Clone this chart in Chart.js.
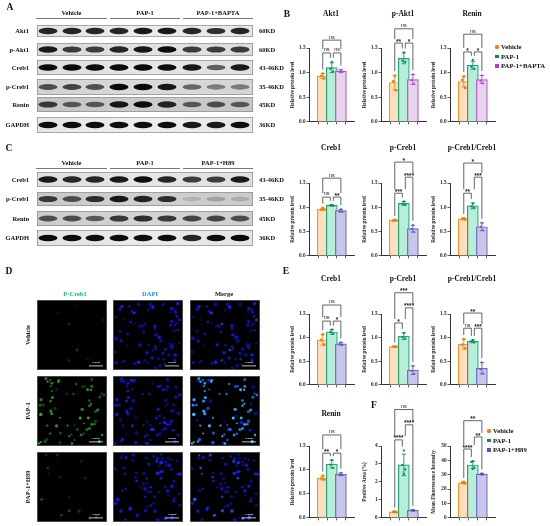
<!DOCTYPE html>
<html>
<head>
<meta charset="utf-8">
<script src="https://cdn.jsdelivr.net/npm/chart.js@4.4.0/dist/chart.umd.min.js"></script>
<style>
  html, body { margin: 0; padding: 0; background: #fff; }
  #fig { position: relative; width: 550px; height: 526px; overflow: hidden;
         font-family: "Liberation Serif", "Times New Roman", serif; font-weight: bold; color: #111; }
  .t { position: absolute; white-space: nowrap; line-height: 1; }
  #fig canvas { position: absolute; }
</style>
</head>
<body>
<div id="fig"><canvas id="bg" width="550" height="526" style="left:0;top:0"></canvas></div>
<script>
// ---- data ----
const groupsBapta = ['Vehicle', 'PAP-1', 'PAP-1+BAPTA'];
const groupsH89 = ['Vehicle', 'PAP-1', 'PAP-1+H89'];
const proteinTicks = [0, 0.5, 1.0, 1.5];

// B
const akt1Mean = [0.93, 1.10, 1.03];
const akt1Sd = [0.05, 0.10, 0.03];
const akt1Pts = [[0.98, 0.93, 0.88], [1.22, 1.08, 1.02], [1.05, 1.02, 1.01]];
const pakt1Mean = [0.80, 1.29, 0.86];
const pakt1Sd = [0.15, 0.11, 0.10];
const pakt1Pts = [[0.93, 0.82, 0.64], [1.41, 1.24, 1.22], [0.97, 0.85, 0.77]];
const reninBMean = [0.82, 1.15, 0.86];
const reninBSd = [0.11, 0.08, 0.08];
const reninBPts = [[0.92, 0.85, 0.69], [1.26, 1.12, 1.08], [0.95, 0.83, 0.78]];

// C
const creb1CMean = [0.96, 1.04, 0.93];
const creb1CSd = [0.02, 0.01, 0.03];
const creb1CPts = [[0.99, 0.95, 0.95], [1.05, 1.04, 1.03], [0.96, 0.92, 0.91]];
const pcreb1CMean = [0.73, 1.08, 0.56];
const pcreb1CSd = [0.01, 0.04, 0.07];
const pcreb1CPts = [[0.74, 0.73, 0.73], [1.12, 1.07, 1.05], [0.64, 0.55, 0.49]];
const ratioCMean = [0.76, 1.03, 0.60];
const ratioCSd = [0.02, 0.06, 0.08];
const ratioCPts = [[0.77, 0.76, 0.75], [1.08, 1.02, 0.99], [0.68, 0.60, 0.52]];

// E
const creb1EMean = [0.95, 1.12, 0.87];
const creb1ESd = [0.11, 0.05, 0.03];
const creb1EPts = [[1.07, 0.95, 0.85], [1.17, 1.12, 1.08], [0.90, 0.87, 0.85]];
const pcreb1EMean = [0.81, 1.03, 0.31];
const pcreb1ESd = [0.005, 0.07, 0.09];
const pcreb1EPts = [[0.81, 0.81, 0.81], [1.10, 1.01, 0.98], [0.40, 0.30, 0.24]];
const ratioEMean = [0.86, 0.92, 0.35];
const ratioESd = [0.10, 0.03, 0.12];
const ratioEPts = [[0.97, 0.85, 0.77], [0.95, 0.92, 0.90], [0.48, 0.33, 0.24]];
const reninEMean = [0.83, 1.12, 0.91];
const reninESd = [0.04, 0.08, 0.03];
const reninEPts = [[0.88, 0.82, 0.80], [1.21, 1.11, 1.04], [0.94, 0.90, 0.89]];

// F
const areaTicks = [0, 1, 2, 3, 4];
const areaMean = [0.33, 2.95, 0.42];
const areaSd = [0.02, 0.60, 0.03];
const areaPts = [[0.35, 0.33, 0.32, 0.33], [3.75, 2.95, 2.70, 2.45], [0.45, 0.42, 0.41, 0.40]];
const mfiTicks = [0, 10, 20, 30, 40, 50];
const mfiMean = [24.4, 36.8, 30.5];
const mfiSd = [0.5, 2.5, 0.5];
const mfiPts = [[25.0, 24.5, 24.0, 24.2], [39.5, 39.0, 35.0, 34.0], [31.0, 30.5, 30.3, 30.0]];

// significance brackets: [from group, to group, height (data units), label]
const akt1Sig = [[0, 1, 1.40, 'ns'], [1, 2, 1.40, 'ns'], [0, 2, 1.66, 'ns']];
const pakt1Sig = [[0, 1, 1.60, '**'], [1, 2, 1.60, '*'], [0, 2, 1.89, 'ns']];
const reninBSig = [[0, 1, 1.42, '*'], [1, 2, 1.42, '*'], [0, 2, 1.78, 'ns']];
const creb1CSig = [[0, 1, 1.21, 'ns'], [1, 2, 1.21, '**'], [0, 2, 1.60, 'ns']];
const pcreb1CSig = [[0, 1, 1.29, '***'], [1, 2, 1.62, '****'], [0, 2, 1.93, '*']];
const ratioCSig = [[0, 1, 1.29, '**'], [1, 2, 1.62, '***'], [0, 2, 1.91, '*']];
const creb1ESig = [[0, 1, 1.35, 'ns'], [1, 2, 1.35, '*'], [0, 2, 1.69, 'ns']];
const pcreb1ESig = [[0, 1, 1.31, '*'], [1, 2, 1.63, '****'], [0, 2, 1.95, '***']];
const ratioESig = [[0, 1, 1.20, 'ns'], [1, 2, 1.20, '***'], [0, 2, 1.52, '**']];
const reninESig = [[0, 1, 1.35, '**'], [1, 2, 1.35, '*'], [0, 2, 1.73, 'ns']];
const areaSig = [[0, 1, 4.34, '****'], [1, 2, 5.18, '****'], [0, 2, 6.03, 'ns']];
const mfiSig = [[0, 1, 47.9, '****'], [1, 2, 56.3, '**'], [0, 2, 67.6, '**']];

// western blot band strengths (0..1), 9 lanes each
const blotA = {
  'Akt1':    [0.80, 0.80, 0.80, 0.80, 0.85, 0.85, 0.80, 0.75, 0.80],
  'p-Akt1':  [0.85, 0.70, 0.70, 0.80, 0.85, 0.90, 0.70, 0.70, 0.70],
  'Creb1':   [0.95, 0.95, 0.90, 0.95, 0.95, 0.90, 0.85, 0.55, 0.85],
  'p-Creb1': [0.60, 0.65, 0.60, 0.95, 1.00, 0.85, 0.50, 0.40, 0.40],
  'Renin':   [0.70, 0.55, 0.55, 0.85, 0.90, 0.80, 0.55, 0.60, 0.55],
  'GAPDH':   [0.95, 0.90, 0.90, 0.90, 0.90, 0.90, 0.85, 0.85, 0.90]
};
const blotC = {
  'Creb1':   [0.85, 0.80, 0.80, 0.85, 0.90, 0.80, 0.70, 0.70, 0.85],
  'p-Creb1': [0.70, 0.60, 0.75, 0.85, 0.80, 0.75, 0.12, 0.20, 0.15],
  'Renin':   [0.60, 0.60, 0.55, 0.70, 0.75, 0.70, 0.65, 0.65, 0.60],
  'GAPDH':   [1.00, 0.90, 0.90, 0.90, 0.90, 0.90, 0.80, 0.90, 0.95]
};
const kdA = ['60KD', '60KD', '43-46KD', '35-46KD', '45KD', '36KD'];
const kdC = ['43-46KD', '35-46KD', '45KD', '36KD'];

// ---- styling ----
const SERIF = '"Liberation Serif", "Times New Roman", serif';
const SANS = '"Liberation Sans", Arial, sans-serif';
const VEH = { fill: '#FFDDBE', line: '#F7941D', dot: '#F07F10' };
const PAP = { fill: '#B8EDD8', line: '#1FA57A', dot: '#10865C' };
const BAP = { fill: '#E8D3EC', line: '#B94FCF', dot: '#B03FC8' };
const H89 = { fill: '#C8C6EA', line: '#6D66C6', dot: '#5850B4' };
const SHAPES = ['circle', 'rect', 'triangle'];
const JIT = { 3: [0, -0.16, 0.16], 4: [0, -0.16, 0.16, 0] };
const X_MIN = -0.69, X_MAX = 2.62, YAXIS_W = 20;

const fig = document.getElementById('fig');

function label(text, x, y, size, opts = {}) {
  const d = document.createElement('div');
  d.className = 't';
  d.textContent = text;
  d.style.left = x + 'px';
  d.style.top = y + 'px';
  d.style.fontSize = size + 'px';
  let tf = opts.align === 'right' ? 'translate(-100%,-50%)'
         : opts.align === 'left' ? 'translate(0,-50%)' : 'translate(-50%,-50%)';
  if (opts.rot) tf += ' rotate(-90deg)';
  d.style.transform = tf;
  if (opts.color) d.style.color = opts.color;
  fig.appendChild(d);
  return d;
}

// error bars under the points, brackets on top
function decor(sp) {
  return {
    id: 'decor',
    afterDatasetDraw(chart, args) {
      if (args.index !== 0) return;
      const ctx = chart.ctx, xs = chart.scales.x, ys = chart.scales.y;
      ctx.save();
      sp.mean.forEach((m, i) => {
        const x = xs.getPixelForValue(i);
        const yt = ys.getPixelForValue(m + sp.sd[i]);
        const yb = ys.getPixelForValue(Math.max(0, m - sp.sd[i]));
        ctx.strokeStyle = sp.pal[i].line;
        ctx.lineWidth = 1;
        ctx.beginPath();
        ctx.moveTo(x, yb); ctx.lineTo(x, yt);
        ctx.moveTo(x - 2.2, yt); ctx.lineTo(x + 2.2, yt);
        ctx.moveTo(x - 2.2, yb); ctx.lineTo(x + 2.2, yb);
        ctx.stroke();
      });
      ctx.restore();
    },
    afterDraw(chart) {
      const ctx = chart.ctx, xs = chart.scales.x, ys = chart.scales.y;
      const tops = sp.mean.map((m, i) => Math.max(m + sp.sd[i], ...sp.pts[i]));
      ctx.save();
      ctx.strokeStyle = '#333';
      ctx.fillStyle = '#222';
      ctx.lineWidth = 0.75;
      ctx.textAlign = 'center';
      ctx.textBaseline = 'alphabetic';
      sp.sig.forEach(([g1, g2, lvl, txt]) => {
        const legEnd = (g) => {
          let ob = tops[g];
          sp.sig.forEach(([h1, h2, l2]) => {
            if (l2 < lvl && g >= h1 && g <= h2) ob = Math.max(ob, l2);
          });
          return Math.max(ys.getPixelForValue(ob) - 4, ys.getPixelForValue(lvl) + 3);
        };
        const yl = ys.getPixelForValue(lvl);
        const x1 = xs.getPixelForValue(g1) + (g1 === 1 ? 1.5 : 0);
        const x2 = xs.getPixelForValue(g2) - (g2 === 1 ? 1.5 : 0);
        ctx.beginPath();
        ctx.moveTo(x1, legEnd(g1)); ctx.lineTo(x1, yl);
        ctx.lineTo(x2, yl); ctx.lineTo(x2, legEnd(g2));
        ctx.stroke();
        if (txt === 'ns') {
          ctx.font = '5.5px ' + SANS;
          ctx.fillText(txt, (x1 + x2) / 2, yl - 1.6);
        } else {
          ctx.font = 'bold 6.5px ' + SANS;
          ctx.fillText(txt, (x1 + x2) / 2, yl + 0.6);
        }
      });
      ctx.restore();
    }
  };
}

function makeChart(sp) {
  const cv = document.createElement('canvas');
  const padTop = 48;
  const left = sp.ax - YAXIS_W, top = sp.ytop - padTop;
  const w = YAXIS_W + 48 + 1;
  const h = Math.round(sp.y0 - top) + 4;
  cv.width = w; cv.height = h;
  cv.style.left = left + 'px'; cv.style.top = top + 'px';
  cv.style.width = w + 'px'; cv.style.height = h + 'px';
  fig.appendChild(cv);
  if (sp.title) label(sp.title, sp.ax + 22, sp.titleY, 7.5);

  const datasets = [{
    type: 'bar',
    data: sp.mean.map((m, i) => ({ x: i, y: m })),
    backgroundColor: sp.pal.map(p => p.fill),
    borderColor: sp.pal.map(p => p.line),
    borderWidth: 1.2,
    barThickness: 11,
    order: 1
  }];
  sp.pts.forEach((arr, i) => {
    datasets.push({
      type: 'scatter',
      label: sp.groups[i],
      data: arr.map((v, k) => ({ x: i + JIT[arr.length][k], y: v })),
      pointRadius: 1.4,
      pointStyle: SHAPES[i],
      pointBackgroundColor: sp.pal[i].dot,
      pointBorderColor: sp.pal[i].dot,
      pointBorderWidth: 0,
      order: 0
    });
  });

  new Chart(cv, {
    type: 'bar',
    data: { datasets },
    options: {
      responsive: false,
      animation: false,
      events: [],
      layout: { padding: { top: padTop, left: 0, right: 1, bottom: 0 } },
      plugins: { legend: { display: false }, tooltip: { enabled: false } },
      scales: {
        x: {
          type: 'linear', min: X_MIN, max: X_MAX,
          ticks: { display: false },
          afterBuildTicks(s) { s.ticks = [0, 1, 2].map(v => ({ value: v })); },
          grid: { drawOnChartArea: false, drawTicks: true, tickLength: 2.5, color: '#333', lineWidth: 0.8 },
          border: { color: '#333', width: 1 },
          afterFit(s) { s.height = 4; }
        },
        y: {
          min: 0, max: sp.ticks[sp.ticks.length - 1],
          afterBuildTicks(s) { s.ticks = sp.ticks.map(v => ({ value: v })); },
          ticks: {
            padding: 1, color: '#222',
            font: { family: SERIF, size: 5.2, weight: 'bold' },
            callback: sp.fmt
          },
          grid: { drawOnChartArea: false, drawTicks: true, tickLength: 2.5, color: '#333', lineWidth: 0.8 },
          border: { color: '#333', width: 1 },
          title: {
            display: true, text: sp.ylabel, color: '#222',
            padding: { top: 0.5, bottom: 0 },
            font: { family: SERIF, size: 5.2, weight: 'bold' }
          },
          afterFit(s) { s.width = YAXIS_W; }
        }
      }
    },
    plugins: [decor(sp)]
  });
}

const fmt1 = v => Number(v).toFixed(1);
const fmt0 = v => String(v);
const RPL = 'Relative protein level';
const COL = [309, 381, 450];
const ROW_B = { y0: 122, ytop: 48, titleY: 14 };
const ROW_C = { y0: 256, ytop: 183, titleY: 148 };
const ROW_E = { y0: 385, ytop: 314, titleY: 279 };
const ROW_F = { y0: 517, ytop: 445.5, titleY: 414 };
const palB = [VEH, PAP, BAP];
const palH = [VEH, PAP, H89];

const specs = [
  { title: 'Akt1', ax: COL[0], row: ROW_B, pal: palB, groups: groupsBapta, mean: akt1Mean, sd: akt1Sd, pts: akt1Pts, sig: akt1Sig },
  { title: 'p-Akt1', ax: COL[1], row: ROW_B, pal: palB, groups: groupsBapta, mean: pakt1Mean, sd: pakt1Sd, pts: pakt1Pts, sig: pakt1Sig },
  { title: 'Renin', ax: COL[2], row: ROW_B, pal: palB, groups: groupsBapta, mean: reninBMean, sd: reninBSd, pts: reninBPts, sig: reninBSig },
  { title: 'Creb1', ax: COL[0], row: ROW_C, pal: palH, groups: groupsH89, mean: creb1CMean, sd: creb1CSd, pts: creb1CPts, sig: creb1CSig },
  { title: 'p-Creb1', ax: COL[1], row: ROW_C, pal: palH, groups: groupsH89, mean: pcreb1CMean, sd: pcreb1CSd, pts: pcreb1CPts, sig: pcreb1CSig },
  { title: 'p-Creb1/Creb1', ax: COL[2], row: ROW_C, pal: palH, groups: groupsH89, mean: ratioCMean, sd: ratioCSd, pts: ratioCPts, sig: ratioCSig },
  { title: 'Creb1', ax: COL[0], row: ROW_E, pal: palH, groups: groupsH89, mean: creb1EMean, sd: creb1ESd, pts: creb1EPts, sig: creb1ESig },
  { title: 'p-Creb1', ax: COL[1], row: ROW_E, pal: palH, groups: groupsH89, mean: pcreb1EMean, sd: pcreb1ESd, pts: pcreb1EPts, sig: pcreb1ESig },
  { title: 'p-Creb1/Creb1', ax: COL[2], row: ROW_E, pal: palH, groups: groupsH89, mean: ratioEMean, sd: ratioESd, pts: ratioEPts, sig: ratioESig },
  { title: 'Renin', ax: COL[0], row: ROW_F, pal: palH, groups: groupsH89, mean: reninEMean, sd: reninESd, pts: reninEPts, sig: reninESig },
  { title: '', ax: COL[1], row: ROW_F, pal: palH, groups: groupsH89, mean: areaMean, sd: areaSd, pts: areaPts, sig: areaSig,
    ticks: areaTicks, fmt: fmt0, ylabel: 'Positive Area (%)' },
  { title: '', ax: COL[2], row: ROW_F, pal: palH, groups: groupsH89, mean: mfiMean, sd: mfiSd, pts: mfiPts, sig: mfiSig,
    ticks: mfiTicks, fmt: fmt0, ylabel: 'Mean Fluorescence Intensity' }
];
specs.forEach(s => makeChart(Object.assign({
  ticks: proteinTicks, fmt: fmt1, ylabel: RPL,
  y0: s.row.y0, ytop: s.row.ytop, titleY: s.row.titleY
}, s)));

// ---- legends ----
function legend(x, y0, dy, groups, pal) {
  groups.forEach((g, i) => {
    const m = document.createElement('div');
    const y = y0 + i * dy;
    m.style.cssText = `position:absolute;left:${x - 1.6}px;top:${y - 1.6}px;width:3.2px;height:3.2px;background:${pal[i].dot};` +
      (i === 0 ? 'border-radius:50%;' : '');
    fig.appendChild(m);
    label(g, x + 4, y, 6.7, { align: 'left' });
  });
}
legend(497, 47, 9.5, groupsBapta, palB);
legend(489, 431, 9.5, groupsH89, palH);

// ---- panel letters ----
[['A', 10, 8], ['B', 287, 15], ['C', 9, 149], ['D', 9, 272], ['E', 286, 272], ['F', 374, 406]]
  .forEach(([t, x, y]) => label(t, x, y, 9.5));

// ---- western blots ----
const bg = document.getElementById('bg').getContext('2d');
const LANES = [48, 72, 95, 119, 143, 167, 192, 216, 240];

function drawBlot(y, h, inten, tone, bandH) {
  const x = 37, w = 216;
  bg.save();
  const g = bg.createLinearGradient(x, y, x + w, y);
  g.addColorStop(0, `rgb(${tone - 8},${tone - 8},${tone - 8})`);
  g.addColorStop(0.5, `rgb(${tone},${tone},${tone})`);
  g.addColorStop(1, `rgb(${tone - 6},${tone - 6},${tone - 6})`);
  bg.fillStyle = g;
  bg.fillRect(x, y, w, h);
  bg.strokeStyle = '#8a8a8a';
  bg.lineWidth = 0.7;
  bg.strokeRect(x + 0.35, y + 0.35, w - 0.7, h - 0.7);
  bg.beginPath(); bg.rect(x + 1, y + 1, w - 2, h - 2); bg.clip();
  bg.filter = 'blur(0.7px)';
  LANES.forEach((cx, i) => {
    const a = Math.min(1, inten[i] * 1.1);
    bg.fillStyle = `rgba(10,10,10,${a})`;
    bg.beginPath();
    bg.ellipse(cx, y + h / 2, 9.5, bandH / 2 * (0.7 + 0.4 * a), 0, 0, Math.PI * 2);
    bg.fill();
  });
  bg.restore();
}

function blotPanel(rows, kd, yTops, heights, tones, headY, groups) {
  const names = Object.keys(rows);
  names.forEach((n, i) => {
    drawBlot(yTops[i], heights[i], rows[n], tones[i], Math.min(6, heights[i] - 6));
    label(n, 29, yTops[i] + heights[i] / 2, 6.5, { align: 'right' });
    label(kd[i], 259, yTops[i] + heights[i] / 2, 6.5, { align: 'left' });
  });
  const spans = [[36, 107], [110, 180], [183, 253]];
  groups.forEach((g, i) => {
    label(g, (spans[i][0] + spans[i][1]) / 2, headY, 6.5);
    bg.fillStyle = '#555';
    bg.fillRect(spans[i][0], headY + 5, spans[i][1] - spans[i][0], 0.8);
  });
}
blotPanel(blotA, kdA, [25, 43, 60, 79, 97, 117], [12, 13, 15, 16, 15, 16],
  [236, 226, 230, 218, 204, 238], 13, groupsBapta);
blotPanel(blotC, kdC, [172, 192, 211, 230], [15, 14, 15, 16],
  [230, 208, 212, 234], 163, groupsH89);

// ---- immunofluorescence panels (texture from a fixed seed) ----
function seeded(seed) {
  let s = seed;
  return () => { s = (s * 16807) % 2147483647; return (s - 1) / 2147483646; };
}
const MX = [37, 113, 190], MY = [300, 376, 452], MS = 70;
const greenAmount = [[0.10, 0.35], [0.80, 0.85], [0.14, 0.35]];

MY.forEach((y, r) => {
  const rnd = seeded(97 + r * 131);
  const nuclei = [];
  for (let k = 0; k < 80; k++) {
    nuclei.push({ x: 2 + rnd() * (MS - 4), y: 2 + rnd() * (MS - 4), r: 1.0 + rnd() * 0.9,
      b: 0.45 + rnd() * 0.45, g: rnd(), gb: rnd() });
  }
  MX.forEach((x, c) => {
    bg.save();
    bg.fillStyle = '#000';
    bg.fillRect(x, y, MS, MS);
    bg.beginPath(); bg.rect(x, y, MS, MS); bg.clip();
    bg.filter = 'blur(0.4px)';
    bg.globalCompositeOperation = 'lighter';
    nuclei.forEach(n => {
      if (c > 0) {
        bg.fillStyle = `rgba(20,25,240,${n.b})`;
        bg.beginPath(); bg.arc(x + n.x, y + n.y, n.r, 0, Math.PI * 2); bg.fill();
      }
      if (c !== 1 && n.g < greenAmount[r][0]) {
        const a = greenAmount[r][1] * (0.3 + 0.7 * n.gb);
        bg.fillStyle = `rgba(40,220,60,${a})`;
        bg.beginPath(); bg.arc(x + n.x, y + n.y, n.r * 0.9, 0, Math.PI * 2); bg.fill();
      }
    });
    bg.restore();
    bg.strokeStyle = '#777';
    bg.lineWidth = 0.6;
    bg.strokeRect(x + 0.3, y + 0.3, MS - 0.6, MS - 0.6);
    bg.fillStyle = '#eee';
    bg.fillRect(x + MS - 18, y + MS - 4.5, 14, 0.8);
    label('100μm', x + MS - 11, y + MS - 7, 2.8, { color: '#ddd' });
  });
});
label('P-Creb1', 75, 294, 6.5, { color: '#1CC46C' });
label('DAPI', 150, 294, 6.5, { color: '#1E8FE8' });
label('Merge', 224, 294, 6.5);
['Vehicle', 'PAP-1', 'PAP-1+H89'].forEach((t, r) => label(t, 28, MY[r] + MS / 2, 6.5, { rot: true }));
</script>
</body>
</html>
